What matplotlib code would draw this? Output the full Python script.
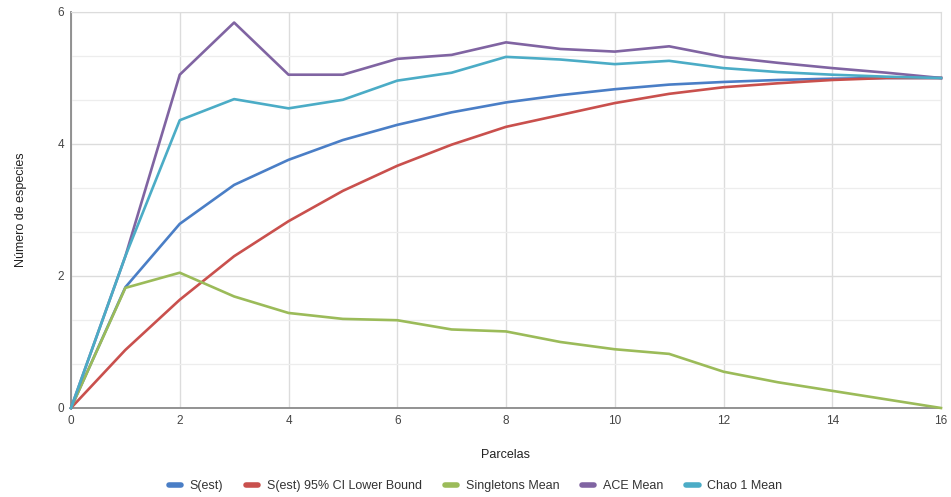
import matplotlib
matplotlib.use("Agg")
import matplotlib.pyplot as plt
from matplotlib.lines import Line2D
from matplotlib.ticker import MultipleLocator

plt.rcParams['font.family'] = ['Liberation Sans', 'DejaVu Sans']

parcelas = list(range(0, 17))
s_est = [0, 1.83, 2.79, 3.38, 3.76, 4.06, 4.29, 4.48, 4.63, 4.74, 4.83, 4.90, 4.94, 4.97, 4.99, 5.0, 5.0]
s_lower = [0, 0.88, 1.64, 2.30, 2.83, 3.29, 3.67, 3.99, 4.26, 4.44, 4.62, 4.76, 4.86, 4.92, 4.97, 5.0, 5.0]
singletons = [0, 1.82, 2.05, 1.69, 1.44, 1.35, 1.33, 1.19, 1.16, 1.0, 0.89, 0.82, 0.55, 0.39, 0.26, 0.13, 0]
ace = [0, 2.3, 5.05, 5.84, 5.05, 5.05, 5.29, 5.35, 5.54, 5.44, 5.40, 5.48, 5.32, 5.23, 5.15, 5.08, 5.0]
chao1 = [0, 2.3, 4.36, 4.68, 4.54, 4.67, 4.96, 5.08, 5.32, 5.28, 5.21, 5.26, 5.15, 5.09, 5.05, 5.02, 5.0]

labels = ["S(est)", "S(est) 95% CI Lower Bound", "Singletons Mean", "ACE Mean", "Chao 1 Mean"]
colors = ["#4a7ec6", "#c9504d", "#9bbb59", "#8064a2", "#4bacc6"]
series = [s_est, s_lower, singletons, ace, chao1]

fig = plt.figure(figsize=(9.51, 4.97), dpi=100)
ax = fig.add_axes([71/951, 1-408/497, 870/951, 396/497])

for ys, c in zip(series, colors):
    ax.plot(parcelas, ys, color=c, lw=1.9, solid_joinstyle='round', zorder=3, clip_on=False)

ax.set_xlim(0, 16)
ax.set_ylim(0, 6)
ax.xaxis.set_major_locator(MultipleLocator(2))
ax.yaxis.set_major_locator(MultipleLocator(2))
ax.yaxis.set_minor_locator(MultipleLocator(2/3))
ax.grid(which='major', color='#dcdcdc', lw=1.0, zorder=0)
ax.grid(which='minor', axis='y', color='#ededed', lw=0.9, zorder=0)
ax.tick_params(which='both', length=0, labelsize=8.5, colors='#444444', pad=5)
for s in ['top', 'right']:
    ax.spines[s].set_color('#dcdcdc')
for s in ['left', 'bottom']:
    ax.spines[s].set_color('#8a8a8a')
    ax.spines[s].set_linewidth(1.3)

ax.set_xlabel("Parcelas", fontsize=9, color='#222222', labelpad=16)
ax.set_ylabel("Número de especies", fontsize=9, color='#222222', labelpad=22)

handles = [Line2D([0], [0], color=c, lw=4, solid_capstyle='round') for c in colors]
fig.legend(handles, labels, loc='center', bbox_to_anchor=(0.5, 1-486/497), ncol=5,
           frameon=False, fontsize=9, handlelength=1.0, columnspacing=1.8, handletextpad=0.7,
           labelcolor='#333333')

fig.savefig("out.png", dpi=100)
